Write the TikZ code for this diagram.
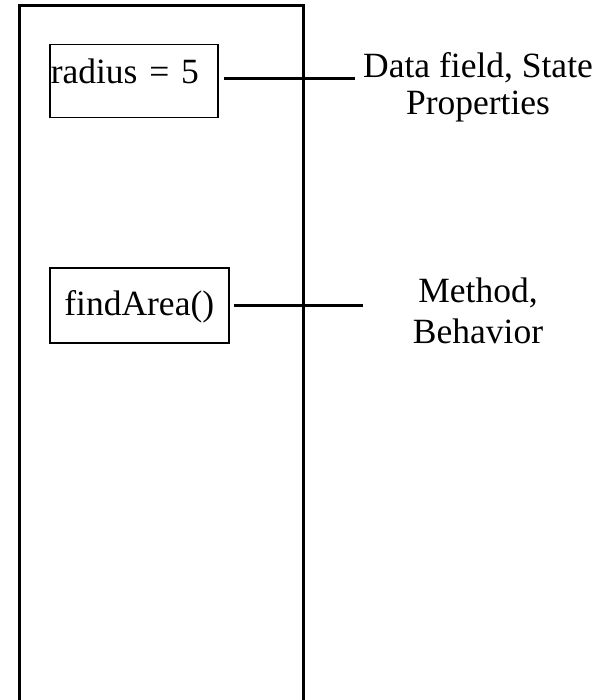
\documentclass[tikz,border=0pt]{standalone}
\usepackage{fontspec}
\setmainfont{Liberation Serif}
\begin{document}
\begin{tikzpicture}[x=1pt,y=-1pt,
  every node/.style={font=\fontsize{35.5}{37}\selectfont, inner sep=0pt},
  objbox/.style={draw, line width=3pt},
  fieldbox/.style={draw, line width=1.5pt, inner xsep=1pt, inner ysep=0pt},
  lead/.style={line width=3pt},
  note/.style={align=center, anchor=base}]
  \clip (0,0) rectangle (599,700);
  % the object: an open-ended tall frame
  \draw[objbox] (19,720) -- (19,6) -- (303.5,6) -- (303.5,720);
  % data field and method boxes
  \node[fieldbox, anchor=north west, text width=166pt, align=left,
        text height=39pt, text depth=34pt] (radius) at (49,44) {radius = 5};
  \node[fieldbox, anchor=north west, text width=177pt, align=center,
        text height=48pt, text depth=27pt] (area) at (49,267) {findArea()};
  % descriptions (base anchor sits on the last line)
  \node[note] (state) at (478,115) {Data field, State\\Properties};
  \node[note, font=\fontsize{35.5}{41}\selectfont] (behav) at (478,343) {Method,\\Behavior};
  % leader lines
  \coordinate (stateend) at (355,79);
  \coordinate (behavend) at (363,305);
  \draw[lead] ([xshift=5pt]radius.east |- stateend) -- (stateend);
  \draw[lead] ([xshift=4pt]area.east |- behavend) -- (behavend);
\end{tikzpicture}
\end{document}
